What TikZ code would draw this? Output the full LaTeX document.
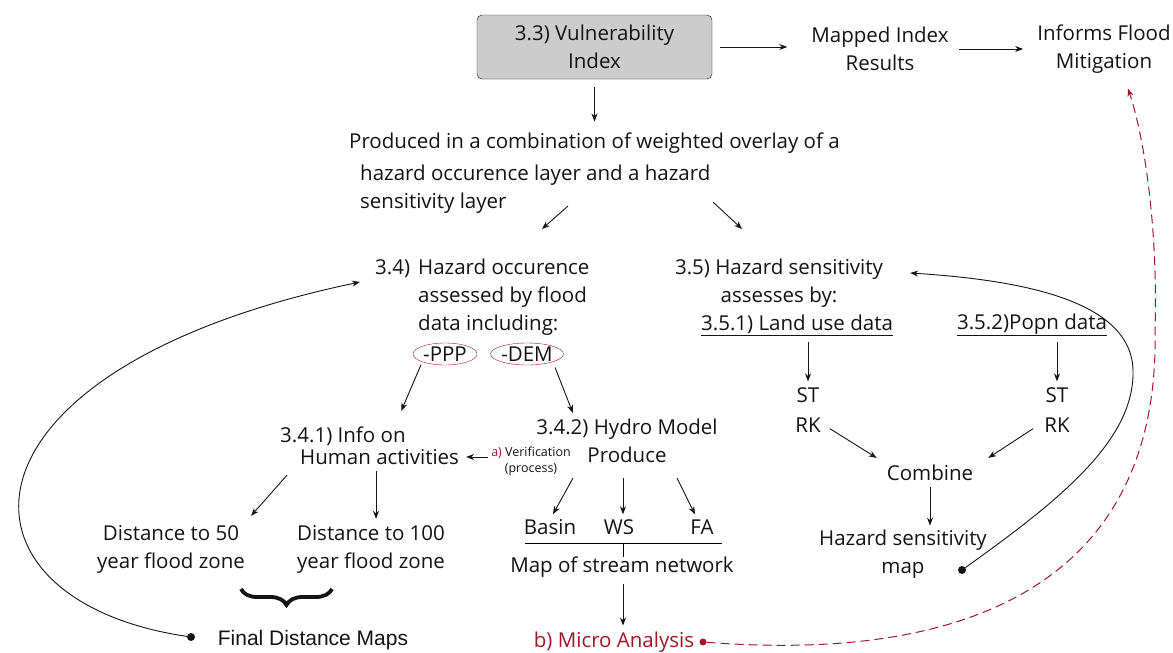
\documentclass[tikz,border=0pt]{standalone}
\usepackage{fontspec}
\setmainfont{Open Sans}
\newfontfamily\arialfont{Liberation Sans}
\usetikzlibrary{positioning,shapes.geometric,arrows.meta,decorations.pathreplacing}
\definecolor{dkred}{RGB}{160,24,40}
\definecolor{boxgray}{RGB}{204,204,204}
\definecolor{ink}{RGB}{20,20,20}

\begin{document}
\begin{tikzpicture}
        [x=1pt,y=-1pt,
        txt/.style={inner sep=0pt,align=center,text=ink,font=\fontsize{20.5}{28}\selectfont},
        n/.style={txt,draw=ink,fill=boxgray,rounded corners=5pt,minimum width=235pt,minimum height=64pt},
        dot/.style={circle,fill=ink,inner sep=0pt,minimum size=8pt},
        oval/.style={ellipse,draw=dkred,inner sep=0pt,minimum width=64pt,minimum height=22pt,text=ink,font=\fontsize{20.5}{28}\selectfont},
        arr/.style={-{Stealth[length=8pt,width=6pt]},draw=ink,line width=0.9pt}]
        \path[use as bounding box,fill=white] (0,0) rectangle (1173,653);
        % top row
        \node[n] (vuln) at (594.5,47) {3.3) Vulnerability\\Index};
        \node[txt] (mapped) at (880,49) {Mapped Index\\Results};
        \node[txt] (informs) at (1104,49) {Informs Flood\\Mitigation};
        \node[txt,align=left,anchor=west] (produced) at (349,173) {Produced in a combination of weighted overlay of a\\[4pt]\hspace*{11pt}hazard occurence layer and a hazard\\\hspace*{11pt}sensitivity layer};
        % hazard occurence branch
        \node[txt,align=left,anchor=west] (occ) at (418,297) {\llap{3.4)\hspace{8pt}}Hazard occurence\\assessed by flood\\data including:};
        \node[oval] (ppp) at (445,354) {-PPP};
        \node[oval] (dem) at (527,354) {-DEM};
        \node[txt,align=left,anchor=west] (info) at (280,446) {3.4.1) Info on\\[-6pt]\hspace*{20pt}Human activities};
        \node[txt,font=\fontsize{12.5}{16}\selectfont] (verif) at (531,461) {\textcolor{dkred}{a)} Verification\\(process)};
        \node[txt] (hydro) at (627,441) {3.4.2) Hydro Model\\Produce};
        \node[txt] (basin) at (550,527) {Basin};
        \node[txt] (ws) at (619,527) {WS};
        \node[txt] (fa) at (702,527) {FA};
        \coordinate (barL) at (525,543);
        \coordinate (barR) at (722,543);
        \coordinate (tick) at (623,543);
        \node[txt] (stream) at (622,567) {Map of stream network};
        \node[txt,text=dkred] (micro) at (614,642) {b) Micro Analysis};
        \node[dot,fill=dkred,minimum size=7pt] (mdot) at (703,642) {};
        \node[txt] (dist50) at (171,549) {Distance to 50\\year flood zone};
        \node[txt] (dist100) at (371,549) {Distance to 100\\year flood zone};
        \node[txt,font=\arialfont\fontsize{21}{24}\selectfont] (final) at (313,640) {Final Distance Maps};
        \node[dot] (fdot) at (191,637) {};
        % hazard sensitivity branch
        \node[txt] (sens) at (779,283) {3.5) Hazard sensitivity\\assesses by:};
        \node[txt] (land) at (797,325) {\underline{3.5.1) Land use data}};
        \node[txt] (popn) at (1032,325) {\underline{3.5.2)Popn data}};
        \node[txt,font=\fontsize{20.5}{30}\selectfont] (st1) at (808,410) {ST\\RK};
        \node[txt,font=\fontsize{20.5}{30}\selectfont] (st2) at (1057,410) {ST\\RK};
        \node[txt] (combine) at (930,473) {Combine};
        \node[txt] (hsmap) at (903,554) {Hazard sensitivity\\map};
        \node[dot] (hdot) at (962,570) {};
        % connectors
        \draw[arr,shorten <=8pt,shorten >=24pt] (vuln.east) -- (vuln.east -| mapped.west);
        \draw[arr,shorten <=10pt,shorten >=14pt] (mapped.east) -- (mapped.east -| informs.west);
        \draw[arr,shorten <=8pt,shorten >=11pt] (vuln) -- (vuln |- produced.north);
        \draw[arr] ([shift={(219,33)}]produced.west) -- ([shift={(124,-68)}]occ.west);
        \draw[arr] ([shift={(364,29)}]produced.west) -- ([shift={(393,56)}]produced.west);
        \draw[arr,shorten <=3pt] (ppp.south west) -- ++(-21,49);
        \draw[arr,shorten <=6pt] (dem.south east) -- ++(20,51);
        \draw[arr] ([shift={(-3,-4)}]verif.west) -- ++(-22,0);
        \draw[arr] ([shift={(-54,15)}]hydro.south) -- ([shift={(3,-5)}]basin.north);
        \draw[arr,shorten <=15pt,shorten >=5pt] (hydro.south -| tick) -- (ws.north -| tick);
        \draw[arr] ([shift={(50,15)}]hydro.south) -- ([shift={(-7,-5)}]fa.north);
        \draw[line width=1pt] (barL) -- (barR);
        \draw[line width=0.9pt] (tick) -- (tick |- stream.north);
        \draw[arr,shorten <=6pt,shorten >=6pt] (stream.south -| tick) -- (micro.north -| tick);
        \draw[arr] ([shift={(7,10)}]info.south west) -- ([shift={(6,-9)}]dist50.north east);
        \draw[arr,shorten <=6pt,shorten >=6pt] ([xshift=5pt]info.south -| dist100) -- ([xshift=5pt]dist100.north);
        \draw[ink,line width=3.8pt,decorate,decoration={brace,amplitude=16pt}] (332,589) -- (241,589);
        \draw[arr,shorten <=6pt,shorten >=6pt] (st1 |- land.south) -- (st1.north);
        \draw[arr,shorten <=6pt,shorten >=6pt] (st2 |- popn.south) -- (st2.north);
        \draw[arr] ([shift={(9,-4)}]st1.south east) -- ([shift={(-10,-7)}]combine.north west);
        \draw[arr] ([shift={(-11,-4)}]st2.south west) -- ([shift={(15,-7)}]combine.north east);
        \draw[arr,shorten <=6pt,shorten >=4pt] (combine.south) -- (combine |- hsmap.north);
        \draw[arr] (hdot) .. controls (1060,500) and (1135,440) .. (1133,370) .. controls (1131,300) and (1020,280) .. ([shift={(27,-10)}]sens.east);
        \draw[arr] (fdot) .. controls (-60,600) and (-60,370) .. ([shift={(-58,-15)}]occ.west);
        \draw[arr,draw=dkred,dash pattern=on 9pt off 5pt,line width=1pt] (mdot) .. controls (1000,665) and (1160,560) .. (1155,330) .. controls (1158,230) and (1145,140) .. ([shift={(24,15)}]informs.south);
\end{tikzpicture}
\end{document}
